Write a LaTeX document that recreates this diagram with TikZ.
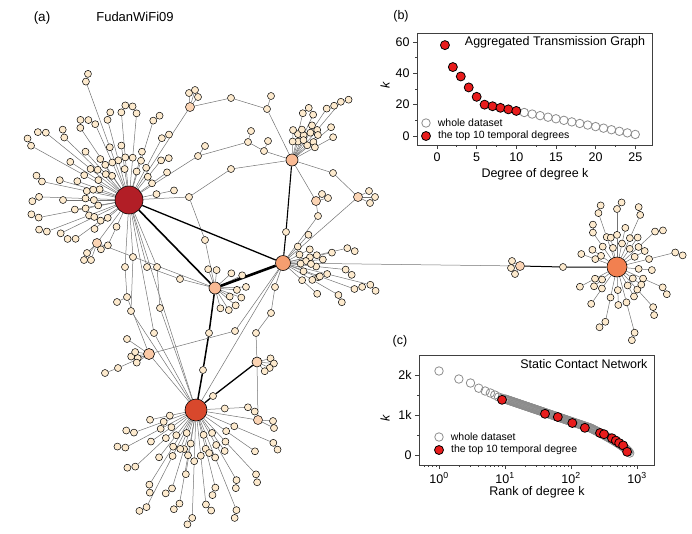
\documentclass[tikz,border=0pt]{standalone}
\usepackage{fontspec}
\setmainfont{Liberation Sans}
\usetikzlibrary{calc}
\usetikzlibrary{positioning}

\definecolor{leafc}{RGB}{253,234,205}
\definecolor{paleor}{RGB}{251,212,180}
\definecolor{hubred}{RGB}{178,30,38}
\definecolor{hubver}{RGB}{216,72,44}
\definecolor{hubor}{RGB}{242,128,80}
\definecolor{hubsal}{RGB}{245,158,112}
\definecolor{hublt}{RGB}{249,186,148}
\definecolor{dotred}{RGB}{232,28,28}

\pgfdeclarelayer{bg}
\pgfsetlayers{bg,main}

\tikzset{
  leaf/.style={circle,draw,fill=leafc,inner sep=0pt,minimum size=7pt,line width=0.5pt},
  pale/.style={leaf,fill=paleor,minimum size=9pt},
  hub/.style={circle,draw,inner sep=0pt,line width=0.6pt},
  edge/.style={draw=black!55,line width=0.5pt},
  heavy/.style={draw=black,line width=1.3pt},
  opendot/.style={circle,draw=black!45,line width=0.8pt,inner sep=0pt,minimum size=8.5pt},
  reddot/.style={circle,draw=black,fill=dotred,line width=0.8pt,inner sep=0pt,minimum size=9pt},
  axisline/.style={draw=black!75,line width=0.7pt},
  legtext/.style={font=\fontsize{10.5}{12}\selectfont,inner sep=0pt}
}

\begin{document}
\begin{tikzpicture}[x=1pt,y=-1pt,font=\fontsize{12.5}{14}\selectfont]
    \useasboundingbox (0,0) rectangle (692,533);

    % panel (a): the network
    \node (lbla) at (42,18) {\fontsize{13.5}{15}\selectfont (a)};
    \node (ttla) at (135,17) {\fontsize{13}{15}\selectfont FudanWiFi09};

    \node[hub, fill=hubred, minimum size=28pt] (H1) at (129,200) {};
    \node[hub, fill=hubsal, minimum size=15pt] (H2) at (283,263) {};
    \node[hub, fill=hublt, minimum size=12pt] (H3) at (292,160) {};
    \node[hub, fill=hublt, minimum size=12pt] (H4) at (215,288) {};
    \node[hub, fill=hubver, minimum size=22pt] (H5) at (196,410) {};
    \node[hub, fill=hublt!70!leafc, minimum size=11pt] (H6) at (149,354) {};
    \node[hub, fill=hubor, minimum size=20pt] (H7) at (617,267) {};
    \node[hub, fill=paleor, minimum size=10pt] (H8) at (257,362) {};
    \node[pale] (H9) at (258,420) {};

    % fans: angle / length / twig
    \foreach \a/\r/\tw [count=\i] in {192/89/1, 182/90/-1, 169/92/1, 159/88/1, 154/76/0,
        144/66/1, 209/112/1, 219/107/-1, 224/90/1, 236/87/1, 246/83/-1, 255/83/1,
        265/88/1, 275/87/-1, 287/83/1, 309/51/1, 324/47/0, 348/46/0, 200/55/0,
        235/50/0, 170/55/0, 250/126/1, 262/55/0, 285/50/0, 140/45/0, 115/50/1,
        196/72/0, 213/70/0, 228/65/0, 298/70/1, 180/66/0}
    {
        \node[leaf] (H1m\i) at ($(H1)+(\a:{0.35*\r+12})$) {};
        \node[leaf] (H1e\i) at ($(H1)+(\a:\r)$) {};
        \begin{pgfonlayer}{bg}\draw[edge] (H1) -- (H1m\i) -- (H1e\i);\end{pgfonlayer}
        \ifnum\tw=0\else
            \node[leaf] (H1t\i) at ($(H1e\i)+({\a+\tw*35}:8)$) {};
            \begin{pgfonlayer}{bg}\draw[edge] (H1e\i) -- (H1t\i);\end{pgfonlayer}
        \fi
    }
    \foreach \a/\r/\tw [count=\i] in {92/108/1, 117/109/1, 152/80/1, 137/83/1, 168/47/0,
        107/82/1, 99/65/0, 84/95/-1, 76/80/1, 60/81/1, 68/108/1, 23/84/1, 35/72/0,
        357/52/1, 47/88/1, 128/60/0, 145/55/0, 112/42/0, 73/45/0, 55/50/0, 160/66/1,
        122/88/-1, 100/95/1}
    {
        \node[leaf] (H5m\i) at ($(H5)+(\a:{0.4*\r+8})$) {};
        \node[leaf] (H5e\i) at ($(H5)+(\a:\r)$) {};
        \begin{pgfonlayer}{bg}\draw[edge] (H5) -- (H5m\i) -- (H5e\i);\end{pgfonlayer}
        \ifnum\tw=0\else
            \node[leaf] (H5t\i) at ($(H5e\i)+({\a+\tw*35}:8)$) {};
            \begin{pgfonlayer}{bg}\draw[edge] (H5e\i) -- (H5t\i);\end{pgfonlayer}
        \fi
    }
    \foreach \a/\r/\tw [count=\i] in {270/58/1, 251/57/1, 294/57/-1, 317/52/1, 346/60/1,
        24/50/1, 48/54/1, 75/68/1, 102/56/1, 125/45/0, 152/42/0, 200/38/0, 235/42/1,
        282/40/0, 5/35/0, 330/32/0, 60/34/0, 88/38/0, 140/30/0, 215/30/0, 258/30/0,
        305/36/0, 36/30/0}
    {
        \node[leaf] (H7m\i) at ($(H7)+(\a:{0.45*\r+6})$) {};
        \node[leaf] (H7e\i) at ($(H7)+(\a:\r)$) {};
        \begin{pgfonlayer}{bg}\draw[edge] (H7) -- (H7m\i) -- (H7e\i);\end{pgfonlayer}
        \ifnum\tw=0\else
            \node[leaf] (H7t\i) at ($(H7e\i)+({\a+\tw*35}:8)$) {};
            \begin{pgfonlayer}{bg}\draw[edge] (H7e\i) -- (H7t\i);\end{pgfonlayer}
        \fi
    }
    \foreach \a/\r/\tw [count=\i] in {283/48/1, 295/50/0, 304/62/1, 310/76/1, 320/51/0,
        331/47/0, 316/36/0, 288/32/0, 272/30/0, 300/40/0}
    {
        \node[leaf] (H3m\i) at ($(H3)+(\a:{0.45*\r+5})$) {};
        \node[leaf] (H3e\i) at ($(H3)+(\a:\r)$) {};
        \begin{pgfonlayer}{bg}\draw[edge] (H3) -- (H3m\i) -- (H3e\i);\end{pgfonlayer}
        \ifnum\tw=0\else
            \node[leaf] (H3t\i) at ($(H3e\i)+({\a+\tw*35}:8)$) {};
            \begin{pgfonlayer}{bg}\draw[edge] (H3e\i) -- (H3t\i);\end{pgfonlayer}
        \fi
    }
    \foreach \a/\r/\tw [count=\i] in {14/90/1, 30/64/1, 6/63/1, 347/66/1, 348/50/0,
        355/40/0, 22/38/0, 333/30/0, 42/46/0, 312/38/0, 20/76/-1, 2/28/0}
    {
        \node[leaf] (H2m\i) at ($(H2)+(\a:{0.45*\r+5})$) {};
        \node[leaf] (H2e\i) at ($(H2)+(\a:\r)$) {};
        \begin{pgfonlayer}{bg}\draw[edge] (H2) -- (H2m\i) -- (H2e\i);\end{pgfonlayer}
        \ifnum\tw=0\else
            \node[leaf] (H2t\i) at ($(H2e\i)+({\a+\tw*35}:8)$) {};
            \begin{pgfonlayer}{bg}\draw[edge] (H2e\i) -- (H2t\i);\end{pgfonlayer}
        \fi
    }
    \foreach \a/\r [count=\i] in {275/18, 318/22, 335/30, 5/22, 358/31, 30/17, 40/27,
        58/26, 75/21, 250/20, 20/28}
    {
        \node[leaf] (H4l\i) at ($(H4)+(\a:\r)$) {};
        \begin{pgfonlayer}{bg}\draw[edge] (H4) -- (H4l\i);\end{pgfonlayer}
    }
    \foreach \a/\r [count=\i] in {345/14, 5/17, 25/14, 50/12}
    {
        \node[leaf] (H8l\i) at ($(H8)+(\a:\r)$) {};
        \begin{pgfonlayer}{bg}\draw[edge] (H8) -- (H8l\i);\end{pgfonlayer}
    }
    \foreach \a/\r [count=\i] in {160/12, 172/18, 145/15, 188/14}
    {
        \node[leaf] (H6l\i) at ($(H6)+(\a:\r)$) {};
        \begin{pgfonlayer}{bg}\draw[edge] (H6) -- (H6l\i);\end{pgfonlayer}
    }

    % relay nodes between the hubs
    \node[pale] (t1) at (190,107) {};
    \node[leaf] (t1a) at (189,93) {};
    \node[leaf] (t1b) at (195,90) {};
    \node[leaf] (t1c) at (198,97) {};
    \node[leaf] (t2) at (231,98) {};
    \node[leaf] (t3) at (267,109) {};
    \node[leaf] (t3a) at (271,96) {};
    \node[leaf] (u1) at (198,156) {};
    \node[leaf] (u1a) at (205,146) {};
    \node[leaf] (u2) at (248,142) {};
    \node[leaf] (u2a) at (251,131) {};
    \node[leaf] (u3) at (264,151) {};
    \node[leaf] (u3a) at (268,141) {};
    \node[leaf] (v1) at (231,169) {};
    \node[leaf] (w1) at (189,197) {};
    \node[leaf] (w2) at (205,240) {};
    \node[leaf] (r1) at (333,173) {};
    \node[pale] (p1) at (358,197) {};
    \node[leaf] (p1a) at (369,191) {};
    \node[leaf] (p1b) at (375,197) {};
    \node[leaf] (p1c) at (370,203) {};
    \node[pale] (p2) at (316,201) {};
    \node[leaf] (p2a) at (322,194) {};
    \node[leaf] (p2b) at (328,198) {};
    \node[leaf] (p3) at (318,216) {};
    \node[leaf] (s1) at (286,232) {};
    \node[leaf] (m1) at (209,333) {};
    \node[leaf] (m2) at (203,370) {};
    \node[leaf] (n1) at (213,396) {};
    \node[leaf] (y1) at (275,287) {};
    \node[leaf] (y2) at (271,313) {};
    \node[leaf] (y3) at (256,333) {};
    \node[leaf] (y5) at (235,331) {};
    \node[leaf] (H9a) at (273,421) {};
    \node[leaf] (H9b) at (274,428) {};
    \node[leaf] (d1) at (125,267) {};
    \node[leaf] (d2) at (133,257) {};
    \node[leaf] (d3) at (127,297) {};
    \node[leaf] (d3a) at (117,302) {};
    \node[leaf] (d4) at (131,311) {};
    \node[leaf] (d5) at (127,339) {};
    \node[leaf] (d6) at (147,267) {};
    \node[leaf] (d7) at (157,267) {};
    \node[leaf] (d8) at (160,308) {};
    \node[leaf] (d9) at (154,333) {};
    \node[leaf] (d10) at (180,279) {};
    \node[leaf] (h6a) at (118,368) {};
    \node[leaf] (h6b) at (105,373) {};
    \node[pale] (pa) at (97,243) {};
    \node[leaf] (paa) at (87,253) {};
    \node[leaf] (pab) at (84,260) {};
    \node[leaf] (pac) at (91,260) {};
    \node[pale] (c1) at (520,266) {};
    \node[leaf] (c1a) at (512,261) {};
    \node[leaf] (c1b) at (511,268) {};
    \node[leaf] (c1c) at (515,274) {};
    \node[leaf] (c2) at (563,267) {};

    \begin{pgfonlayer}{bg}
        \draw[edge] (H1) -- (t1) -- (t2) -- (t3) -- (H3);
        \draw[edge] (t1) -- (t1a);
        \draw[edge] (t1) -- (t1b);
        \draw[edge] (t1) -- (t1c);
        \draw[edge] (t3) -- (t3a);
        \draw[edge] (H1) -- (u1) -- (u2) -- (u3) -- (H3);
        \draw[edge] (u1) -- (u1a);
        \draw[edge] (u2) -- (u2a);
        \draw[edge] (u3) -- (u3a);
        \draw[edge] (H1) -- (w1) -- (v1) -- (H3);
        \draw[edge] (w1) -- (w2) -- (H4);
        \draw[edge] (H3) -- (r1) -- (p1) -- (H2);
        \foreach \q in {p1a,p1b,p1c} {\draw[edge] (p1) -- (\q);}
        \draw[edge] (H3) -- (p2) -- (p3) -- (H2);
        \draw[edge] (p2) -- (p2a);
        \draw[edge] (p2) -- (p2b);
        \draw[heavy, line width=1.1pt] (H3) -- (s1) -- (H2);
        \draw[heavy] (H1) -- (H2);
        \draw[heavy, line width=1.6pt] (H1) -- (H4);
        \draw[heavy, line width=2.6pt] (H4) -- (H2);
        \draw[heavy, line width=1.5pt] (H4) -- (m1) -- (m2) -- (H5);
        \draw[heavy, line width=1.3pt] (H5) -- (n1) -- (H8);
        \draw[edge] (H2) -- (y1) -- (y2) -- (y3) -- (H8);
        \draw[edge] (H2) -- (H5);
        \draw[edge] (H6) -- (y5) -- (H2);
        \draw[edge] (H8) -- (H9) -- (H5);
        \draw[edge] (H9) -- (H9a);
        \draw[edge] (H9) -- (H9b);
        \draw[edge] (H1) -- (d1) -- (d3) -- (H6);
        \draw[edge] (d3) -- (d3a);
        \draw[edge] (H1) -- (d2) -- (d4) -- (H5);
        \draw[edge] (H1) -- (d6) -- (d10) -- (H4);
        \draw[edge] (H1) -- (d7) -- (d8) -- (H5);
        \draw[edge] (H1) -- (d9) -- (H5);
        \draw[edge] (H1) -- (H5);
        \draw[edge] (H6) -- (d5);
        \draw[edge] (H6) -- (H5);
        \draw[edge] (H6) -- (h6a) -- (h6b);
        \draw[edge] (H1) -- (pa) -- (H4);
        \foreach \q in {paa,pab,pac} {\draw[edge] (pa) -- (\q);}
        \draw[edge] (H2) -- (c1);
        \foreach \q in {c1a,c1b,c1c} {\draw[edge] (c1) -- (\q);}
        \draw[heavy, line width=1pt] (c1) -- (c2) -- (H7);
    \end{pgfonlayer}

    % panel (b)
    \node (lblb) at (401,16) {(b)};
    \node[rotate=90] (kb) at (385,85) {\textit{k}};
    \node (xb) at (535,174) {Degree of degree k};
    \node (tb) at (555,42) {Aggregated Transmission Graph};
    \begin{scope}[shift={(437,136)}, x=7.93pt, y=1.567pt]
        \draw[axisline] (-2.5,-5.7) rectangle (27.2,65.7);
        \foreach \v in {0,5,...,25}
            {\draw[axisline] (\v,-5.7) -- ++(0,-4pt) node[below=0pt] {\v};}
        \foreach \v in {2.5,7.5,...,22.5}
            {\draw[axisline] (\v,-5.7) -- ++(0,-2pt);}
        \foreach \v in {0,20,40,60}
            {\draw[axisline] (-2.5,\v) -- ++(-4pt,0) node[left=0pt] {\v};}
        \foreach \v in {10,30,50}
            {\draw[axisline] (-2.5,\v) -- ++(-2pt,0);}
        \foreach \v [count=\i from 11] in {15,14,...,1}
            {\node[opendot] (ob\i) at (\i,\v) {};}
        \foreach \v [count=\i] in {58,44,38,31,25,20,19,18,17,16}
            {\node[reddot] (rb\i) at (\i,\v) {};}
    \end{scope}
    \node[opendot] (lgbo) at (426,123) {};
    \node[legtext, right=7pt of lgbo] (lgbot) {whole dataset};
    \node[reddot] (lgbr) at (426,136) {};
    \node[legtext, right=7pt of lgbr] (lgbrt) {the top 10 temporal degrees};

    % panel (c)
    \node (lblc) at (400,341) {(c)};
    \node[rotate=90] (kc) at (385,418) {\textit{k}};
    \node (xc) at (537,492) {Rank of degree k};
    \node[anchor=east] (tc) at (651,364) {Static Contact Network};
    \begin{scope}[shift={(439,455)}, x=66pt, y=40pt]
        \draw[axisline] (-0.3,-0.25) rectangle (3.27,2.5);
        \foreach \e in {0,1,2,3}
            {\draw[axisline] (\e,-0.25) -- ++(0,-4pt) node[below=0pt] {10\textsuperscript{\e}};}
        \foreach \e in {-1,0,1,2}
            \foreach \m in {2,...,9}
            {
                \pgfmathsetmacro\lx{\e+log10(\m)}
                \ifdim\lx pt>-0.3pt \ifdim\lx pt<3.27pt
                    \draw[axisline] (\lx,-0.25) -- ++(0,-2pt);
                \fi\fi
            }
        \foreach \v/\t in {0/0,1/1k,2/2k}
            {\draw[axisline] (-0.3,\v) -- ++(-4pt,0) node[left=0pt] {\t};}
        \foreach \v in {0.5,1.5}
            {\draw[axisline] (-0.3,\v) -- ++(-2pt,0);}
        \foreach \r/\v [count=\i] in {1/2.1,2/1.9,3/1.8,4/1.67,5/1.6,6/1.55,7/1.5,8/1.45,9/1.42}
            {\node[opendot] (ge\i) at ({log10(\r)},\v) {};}
        \foreach \L [count=\i] in {1.0,1.015,...,2.89}
        {
            \pgfmathsetmacro\kv{ifthenelse(\L<2.3, 1.4-0.56*(\L-1),
                0.5*(0.672*(2.9-\L)/0.6 + 0.672*sqrt(max(0,(2.9-\L)/0.6))))}
            \node[opendot] (gb\i) at (\L,\kv) {};
        }
        \foreach \L/\v [count=\i] in {0.955/1.38, 1.606/1.03, 1.80/0.95, 2.02/0.80,
            2.21/0.68, 2.44/0.55, 2.5/0.52, 2.62/0.42, 2.68/0.36, 2.73/0.30, 2.79/0.24, 2.85/0.08}
            {\node[reddot] (rc\i) at (\L,\v) {};}
    \end{scope}
    \node[opendot] (lgco) at (439,437) {};
    \node[legtext, right=7pt of lgco] (lgcot) {whole dataset};
    \node[reddot] (lgcr) at (439,450) {};
    \node[legtext, right=7pt of lgcr] (lgcrt) {the top 10 temporal degree};

\end{tikzpicture}
\end{document}
